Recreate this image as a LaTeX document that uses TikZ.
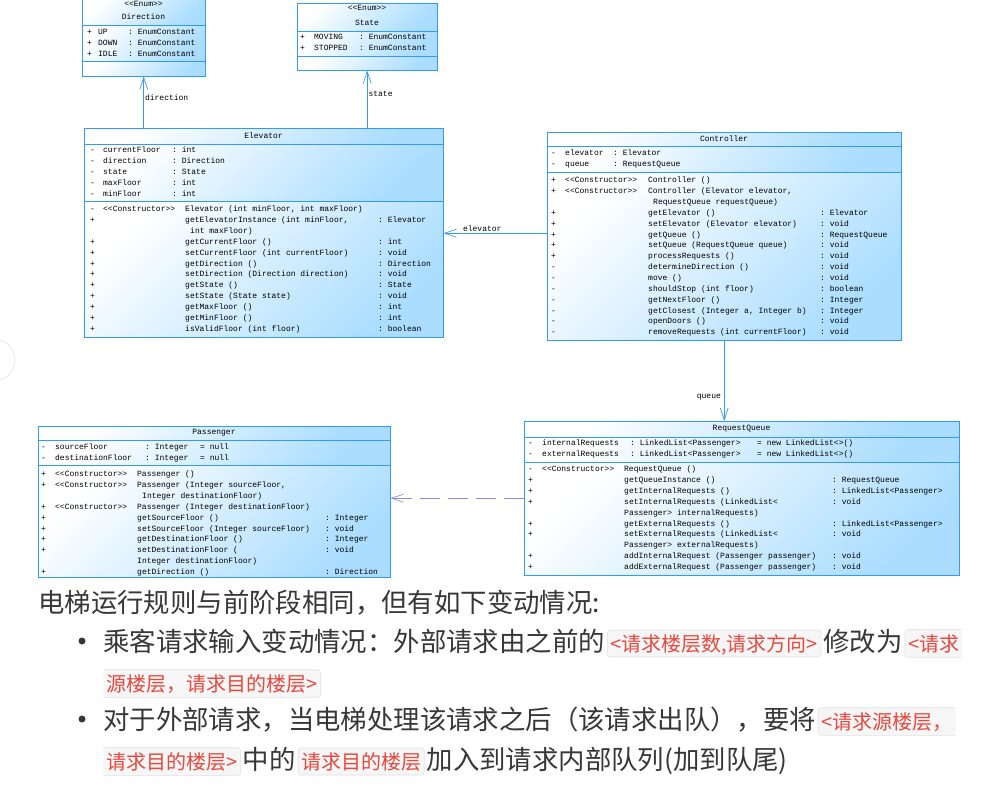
\documentclass[tikz,border=0pt]{standalone}
\usepackage{fontspec}
\setmonofont{Liberation Mono}
\newfontfamily\cjk{Noto Sans CJK SC}
\usepackage{xcolor}
\usetikzlibrary{arrows.meta,positioning,calc}
\setlength{\tabcolsep}{0pt}

\definecolor{umlline}{RGB}{51,153,255}
\definecolor{umlfill}{RGB}{170,221,255}
\definecolor{deplav}{RGB}{140,140,240}
\definecolor{bodytext}{RGB}{55,55,55}
\definecolor{codered}{RGB}{232,72,62}
\definecolor{codebg}{RGB}{246,246,247}
\definecolor{codeedge}{RGB}{224,224,226}

\tikzset{
  umlpart/.style={draw=umlline, line width=0.8pt, top color=white, bottom color=umlfill, shading angle=45},
  classframe/.style={inner sep=0pt, anchor=north west},
  umltitle/.style={font=\ttfamily\fontsize{8}{10.85}\selectfont, inner sep=0pt},
  umlrows/.style={font=\ttfamily\fontsize{8}{10.85}\selectfont, inner sep=0pt, anchor=north west},
  assoc/.style={draw=umlline, line width=0.7pt, -{Straight Barb[length=12pt,width=8pt]}},
  depend/.style={draw=deplav, line width=0.7pt, dash pattern=on 20pt off 8pt, -{Straight Barb[length=12pt,width=8pt]}},
  rolelabel/.style={font=\ttfamily\fontsize{8}{10}\selectfont, inner sep=1pt},
  bodyline/.style={font=\cjk\fontsize{26.4}{30}\selectfont, text=bodytext, inner sep=0pt, anchor=base west},
  codespan/.style={font=\cjk\fontsize{20}{24}\selectfont, text=codered, fill=codebg, draw=codeedge, line width=0.6pt, rounded corners=3pt, inner xsep=3pt, inner ysep=3pt, text height=18pt, text depth=3pt, anchor=base west},
  codesplit/.style={codespan, draw=none},
  codeopen/.style={draw=codeedge, line width=0.6pt, rounded corners=3pt},
}

\begin{document}
\begin{tikzpicture}[x=1pt,y=-1pt]
	\useasboundingbox (0,0) rectangle (984,807);
	\draw[black!8, line width=1pt] (-6,360) circle (21pt);
	
	% class frames
	\node[classframe, minimum width=123pt, minimum height=77pt] (direction) at (82,-1) {};
	\node[classframe, minimum width=140pt, minimum height=67pt] (state) at (297,3) {};
	\node[classframe, minimum width=359pt, minimum height=209pt] (elevator) at (84,128) {};
	\node[classframe, minimum width=354pt, minimum height=208pt] (controller) at (547,132) {};
	\node[classframe, minimum width=435pt, minimum height=154pt] (requestqueue) at (524,421) {};
	\node[classframe, minimum width=352pt, minimum height=151pt] (passenger) at (38,426) {};
	
	% compartments
	\foreach \ya/\yb in {-1/25,25/61,61/76} \draw[umlpart] (82,\ya) rectangle (205,\yb);
	\foreach \ya/\yb in {3/31,31/56,56/70} \draw[umlpart] (297,\ya) rectangle (437,\yb);
	\foreach \ya/\yb in {128/144,144/201,201/337} \draw[umlpart] (84,\ya) rectangle (443,\yb);
	\foreach \ya/\yb in {132/146,146/172,172/340} \draw[umlpart] (547,\ya) rectangle (901,\yb);
	\foreach \ya/\yb in {421/437,437/462,462/575} \draw[umlpart] (524,\ya) rectangle (959,\yb);
	\foreach \ya/\yb in {426/440,440/465,465/577} \draw[umlpart] (38,\ya) rectangle (390,\yb);
	
	% Direction
	\node[umltitle] (dirstereo) at (143.5,4) {<<Enum>>};
	\node[umltitle] (dirname) at (143.5,17) {Direction};
	\node[umlrows] (dirattrs) at (87,27) {\begin{tabular}{@{}p{11pt}p{30pt}l@{}}
		+ & UP & : EnumConstant\\
		+ & DOWN & : EnumConstant\\
		+ & IDLE & : EnumConstant
	\end{tabular}};
	
	% State
	\node[umltitle] (statestereo) at (367,8) {<<Enum>>};
	\node[umltitle] (statename) at (367,22.5) {State};
	\node[umlrows] (stateattrs) at (300,31.5) {\begin{tabular}{@{}p{14pt}p{45pt}l@{}}
		+ & MOVING & : EnumConstant\\
		+ & STOPPED & : EnumConstant
	\end{tabular}};
	
	% Elevator
	\node[umltitle] (elevname) at (263.5,136) {Elevator};
	\node[umlrows] (elevattrs) at (90,145) {\begin{tabular}{@{}p{13pt}p{69pt}l@{}}
		- & currentFloor & : int\\
		- & direction & : Direction\\
		- & state & : State\\
		- & maxFloor & : int\\
		- & minFloor & : int
	\end{tabular}};
	\node[umlrows] (elevops) at (90,204) {\begin{tabular}{@{}p{13pt}p{82pt}p{193pt}l@{}}
		- & <<Constructor>> & Elevator (int minFloor, int maxFloor) & \\
		+ & & getElevatorInstance (int minFloor, & : Elevator\\
		& & \hspace{5pt}int maxFloor) & \\
		+ & & getCurrentFloor () & : int\\
		+ & & setCurrentFloor (int currentFloor) & : void\\
		+ & & getDirection () & : Direction\\
		+ & & setDirection (Direction direction) & : void\\
		+ & & getState () & : State\\
		+ & & setState (State state) & : void\\
		+ & & getMaxFloor () & : int\\
		+ & & getMinFloor () & : int\\
		+ & & isValidFloor (int floor) & : boolean
	\end{tabular}};
	
	% Controller
	\node[umltitle] (ctrlname) at (724,139) {Controller};
	\node[umlrows] (ctrlattrs) at (551,148) {\begin{tabular}{@{}p{14pt}p{48pt}l@{}}
		- & elevator & : Elevator\\
		- & queue & : RequestQueue
	\end{tabular}};
	\node[umlrows] (ctrlops) at (551,175) {\begin{tabular}{@{}p{14pt}p{83pt}p{172pt}l@{}}
		+ & <<Constructor>> & Controller () & \\
		+ & <<Constructor>> & Controller (Elevator elevator, & \\
		& & \hspace{5pt}RequestQueue requestQueue) & \\
		+ & & getElevator () & : Elevator\\
		+ & & setElevator (Elevator elevator) & : void\\
		+ & & getQueue () & : RequestQueue\\
		+ & & setQueue (RequestQueue queue) & : void\\
		+ & & processRequests () & : void\\
		- & & determineDirection () & : void\\
		- & & move () & : void\\
		- & & shouldStop (int floor) & : boolean\\
		- & & getNextFloor () & : Integer\\
		- & & getClosest (Integer a, Integer b) & : Integer\\
		- & & openDoors () & : void\\
		- & & removeRequests (int currentFloor) & : void
	\end{tabular}};
	
	% RequestQueue
	\node[umltitle] (rqname) at (741.5,429) {RequestQueue};
	\node[umlrows] (rqattrs) at (528,438) {\begin{tabular}{@{}p{14pt}p{88pt}p{127pt}l@{}}
		- & internalRequests & : LinkedList<Passenger> & = new LinkedList<>()\\
		- & externalRequests & : LinkedList<Passenger> & = new LinkedList<>()
	\end{tabular}};
	\node[umlrows] (rqops) at (528,464) {\begin{tabular}{@{}p{14pt}p{82pt}p{208pt}l@{}}
		- & <<Constructor>> & RequestQueue () & \\
		+ & & getQueueInstance () & : RequestQueue\\
		+ & & getInternalRequests () & : LinkedList<Passenger>\\
		+ & & setInternalRequests (LinkedList< & : void\\
		& & Passenger> internalRequests) & \\
		+ & & getExternalRequests () & : LinkedList<Passenger>\\
		+ & & setExternalRequests (LinkedList< & : void\\
		& & Passenger> externalRequests) & \\
		+ & & addInternalRequest (Passenger passenger) & : void\\
		+ & & addExternalRequest (Passenger passenger) & : void
	\end{tabular}};
	
	% Passenger
	\node[umltitle] (paxname) at (214,433) {Passenger};
	\node[umlrows] (paxattrs) at (41,442) {\begin{tabular}{@{}p{14pt}p{90pt}p{55pt}l@{}}
		- & sourceFloor & : Integer & = null\\
		- & destinationFloor & : Integer & = null
	\end{tabular}};
	\node[umlrows] (paxops) at (41,469) {\begin{tabular}{@{}p{14pt}p{82pt}p{188pt}l@{}}
		+ & <<Constructor>> & Passenger () & \\
		+ & <<Constructor>> & Passenger (Integer sourceFloor, & \\
		& & \hspace{5pt}Integer destinationFloor) & \\
		+ & <<Constructor>> & Passenger (Integer destinationFloor) & \\
		+ & & getSourceFloor () & : Integer\\
		+ & & setSourceFloor (Integer sourceFloor) & : void\\
		+ & & getDestinationFloor () & : Integer\\
		+ & & setDestinationFloor ( & : void\\
		& & Integer destinationFloor) & \\
		+ & & getDirection () & : Direction
	\end{tabular}};
	
	% associations
	\coordinate (ctrlport) at ([yshift=3pt]controller.west);
	\draw[assoc] (elevator.north -| direction.south) -- node[rolelabel, right, pos=0.58] (dirrole) {direction} (direction.south);
	\draw[assoc] (elevator.north -| state.south) -- node[rolelabel, right, pos=0.6] (staterole) {state} (state.south);
	\draw[assoc] (ctrlport) -- node[rolelabel, above, pos=0.625] (elevrole) {elevator} (ctrlport -| elevator.east);
	\draw[assoc] (controller.south) -- node[rolelabel, left=2pt, pos=0.7] (queuerole) {queue} (controller.south |- requestqueue.north);
	\draw[depend] (requestqueue.west) -- (requestqueue.west -| passenger.east);
	
	% notes below
	\node[bodyline] (intro) at (38,612) {电梯运行规则与前阶段相同，但有如下变动情况:};
	
	\fill[bodytext] (82,641) circle (3.5pt);
	\node[bodyline] (rule1a) at (103,651) {乘客请求输入变动情况：外部请求由之前的};
	\node[codespan] (rule1b) at ([xshift=2pt]rule1a.base east) {<请求楼层数,请求方向>};
	\node[bodyline] (rule1c) at ([xshift=2pt]rule1b.base east) {修改为};
	\node[codesplit] (rule1d) at ([xshift=2pt]rule1c.base east) {<请求};
	\draw[codeopen] (rule1d.north east) -- (rule1d.north west) -- (rule1d.south west) -- (rule1d.south east);
	\node[codesplit] (rule1e) at (103,691) {源楼层，请求目的楼层>};
	\draw[codeopen] (rule1e.north west) -- (rule1e.north east) -- (rule1e.south east) -- (rule1e.south west);
	
	\fill[bodytext] (82,719) circle (3.5pt);
	\node[bodyline] (rule2a) at (103,729) {对于外部请求，当电梯处理该请求之后（该请求出队），要将};
	\node[codesplit] (rule2b) at ([xshift=2pt]rule2a.base east) {<请求源楼层，};
	\draw[codeopen] (rule2b.north east) -- (rule2b.north west) -- (rule2b.south west) -- (rule2b.south east);
	\node[codesplit] (rule2c) at (103,769) {请求目的楼层>};
	\draw[codeopen] (rule2c.north west) -- (rule2c.north east) -- (rule2c.south east) -- (rule2c.south west);
	\node[bodyline] (rule2d) at ([xshift=2pt]rule2c.base east) {中的};
	\node[codespan] (rule2e) at ([xshift=2pt]rule2d.base east) {请求目的楼层};
	\node[bodyline] (rule2f) at ([xshift=2pt]rule2e.base east) {加入到请求内部队列(加到队尾)};
\end{tikzpicture}
\end{document}
